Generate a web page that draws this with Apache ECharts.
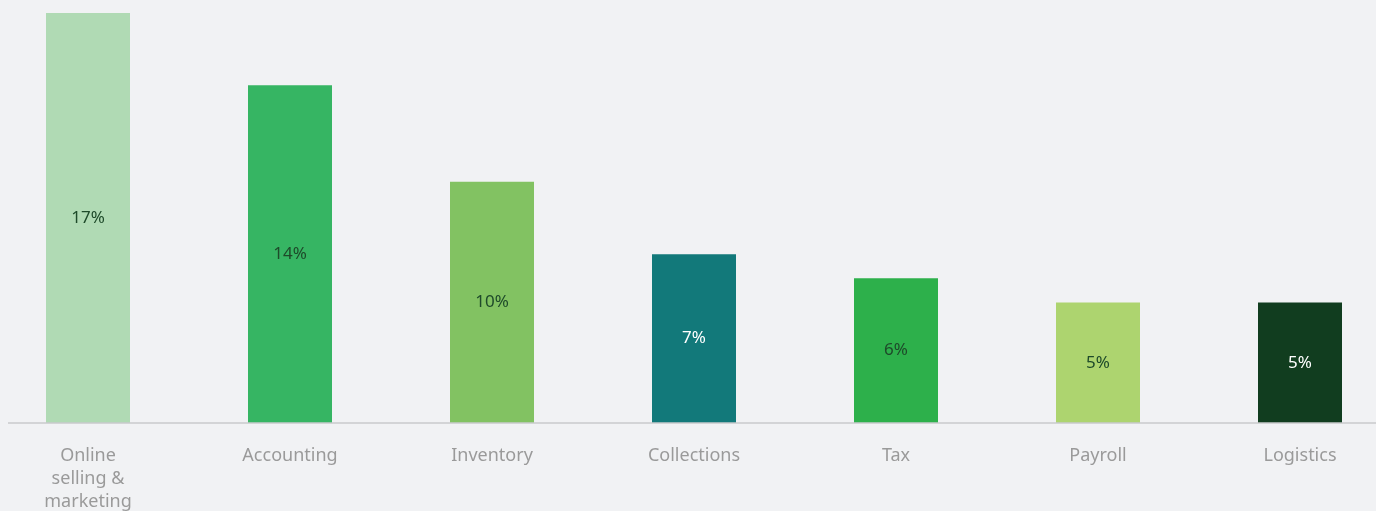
<!DOCTYPE html>
<html>
<head>
<meta charset="utf-8">
<script src="https://cdn.jsdelivr.net/npm/echarts@6/dist/echarts.min.js"></script>
<style>
  html, body { margin: 0; padding: 0; background: #f1f2f4; }
  #chart { width: 1376px; height: 511px; }
</style>
</head>
<body>
<div id="chart"></div>
<script>
// Categories, values (percent) and per-bar colours
const categories = ['Online\nselling &\nmarketing', 'Accounting', 'Inventory', 'Collections', 'Tax', 'Payroll', 'Logistics'];
const values = [17, 14, 10, 7, 6, 5, 5];
const barColors = ['#b0dab4', '#36b563', '#82c262', '#12797a', '#2db04b', '#add46f', '#113d1f'];
const labelColors = ['#1e4a2a', '#1e4a2a', '#1e4a2a', '#ffffff', '#1e4a2a', '#1e4a2a', '#ffffff'];

const chart = echarts.init(document.getElementById('chart'), null, { renderer: 'canvas' });

const FONT = '"Noto Sans", "Open Sans", sans-serif';

chart.setOption({
  backgroundColor: '#f1f2f4',
  animation: false,
  grid: {
    left: -13, right: -25, top: 13, bottom: 88,
    containLabel: false,
    outerBoundsMode: 'none'
  },
  xAxis: {
    type: 'category',
    data: categories,
    axisLine: { show: false },
    axisTick: { show: false },
    axisLabel: {
      color: '#9a9a9a',
      fontFamily: FONT,
      fontSize: 18,
      lineHeight: 23,
      margin: 21,
      interval: 0
    }
  },
  yAxis: {
    type: 'value',
    min: 0,
    max: 17,
    show: false,
    splitLine: { show: false }
  },
  // baseline under the bars
  graphic: [{
    type: 'line',
    shape: { x1: 8, y1: 423, x2: 1376, y2: 423 },
    style: { stroke: '#c9cacc', lineWidth: 1.5 },
    z: 10
  }],
  series: [{
    type: 'bar',
    barWidth: 84,
    data: values.map((v, i) => ({
      value: v,
      itemStyle: { color: barColors[i] },
      label: { color: labelColors[i] }
    })),
    label: {
      show: true,
      position: 'inside',
      fontFamily: FONT,
      fontSize: 17,
      formatter: p => p.value + '%'
    }
  }]
});
</script>
</body>
</html>
